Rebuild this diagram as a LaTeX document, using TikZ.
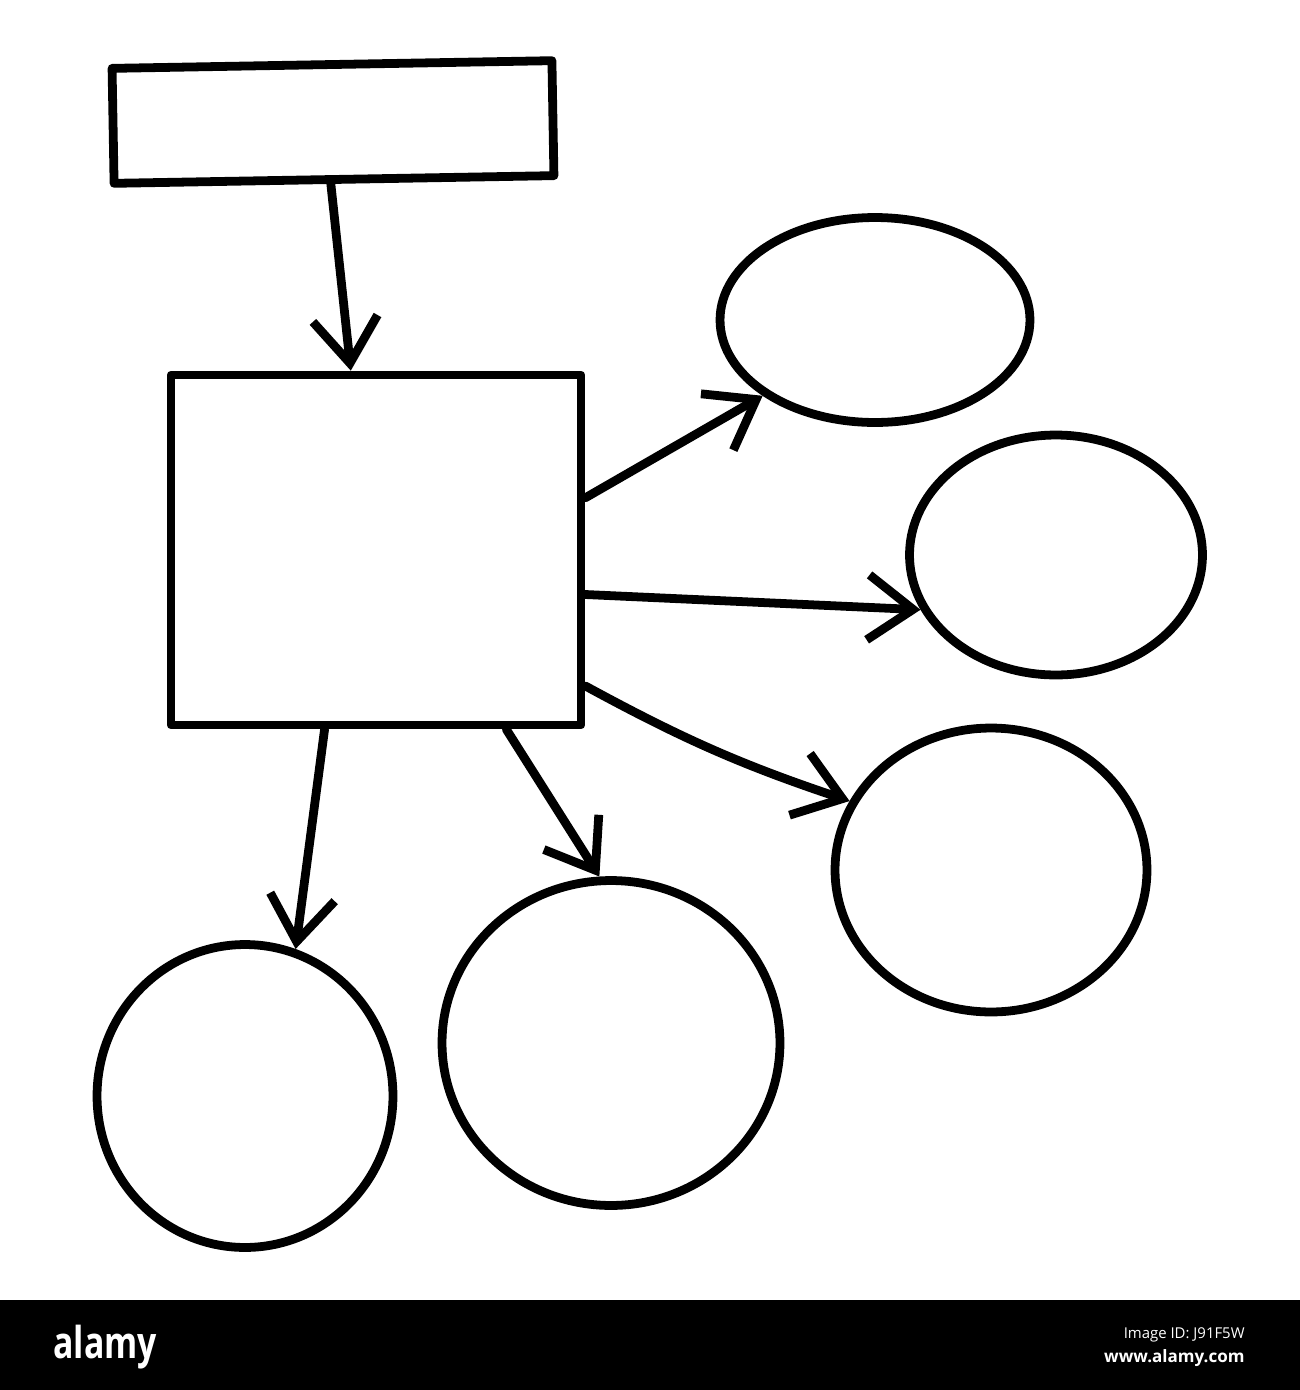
\documentclass[tikz,border=0pt]{standalone}
\usepackage{fontspec}
\setsansfont{Open Sans}
\usetikzlibrary{shapes.geometric,arrows.meta}
\tikzset{
  box/.style={rectangle,draw=black,inner sep=0pt},
  oval/.style={ellipse,draw=black,inner sep=0pt},
  link/.style={-{Straight Barb[length=0.9cm,width=1.3cm]}},
  tag/.style={text=white,inner sep=0pt,font=\sffamily}
}
\begin{document}
\begin{tikzpicture}[x=0.02cm,y=-0.02cm,line width=5pt,line cap=round,line join=round]
\useasboundingbox (0,0) rectangle (1300,1390);
\node[box,minimum width=8.8cm,minimum height=2.3cm,rotate=1] (b1) at (333,122) {};
\node[box,minimum width=8.2cm,minimum height=7cm] (b2) at (376,550) {};
\node[oval,minimum width=6.2cm,minimum height=4.1cm] (c1) at (875,320) {};
\node[oval,minimum width=5.86cm,minimum height=4.8cm] (c2) at (1056,555) {};
\node[oval,minimum width=6.24cm,minimum height=5.68cm] (c3) at (991,870) {};
\node[oval,minimum width=6.76cm,minimum height=6.5cm] (c4) at (611,1043) {};
\node[oval,minimum width=5.92cm,minimum height=6.06cm] (c5) at (245,1096) {};
\draw[link] (b1.267) -- (b2.98);
\draw[link] (b2.14) -- (c1.214);
\draw[link] (b2.-12) -- (c2.202);
\draw[link] (b2.-33) to[bend right=5] (c3.154);
\draw[link] (b2.-54) -- (c4.94);
\draw[link] (b2.254) -- (c5.71);
% strip at the bottom
\fill[black] (0,1300) rectangle (1300,1390);
\node[tag,font=\sffamily\bfseries\fontsize{25}{25}\selectfont,xscale=0.77,anchor=base west] (logo) at (50,1358) {alamy};
\node[tag,font=\sffamily\fontsize{8.5}{8.5}\selectfont,anchor=base east] (id) at (1249,1338) {Image ID: J91F5W};
\node[tag,font=\sffamily\bfseries\fontsize{9.7}{9.7}\selectfont,anchor=base east] (site) at (1249,1362) {www.alamy.com};
\end{tikzpicture}
\end{document}
